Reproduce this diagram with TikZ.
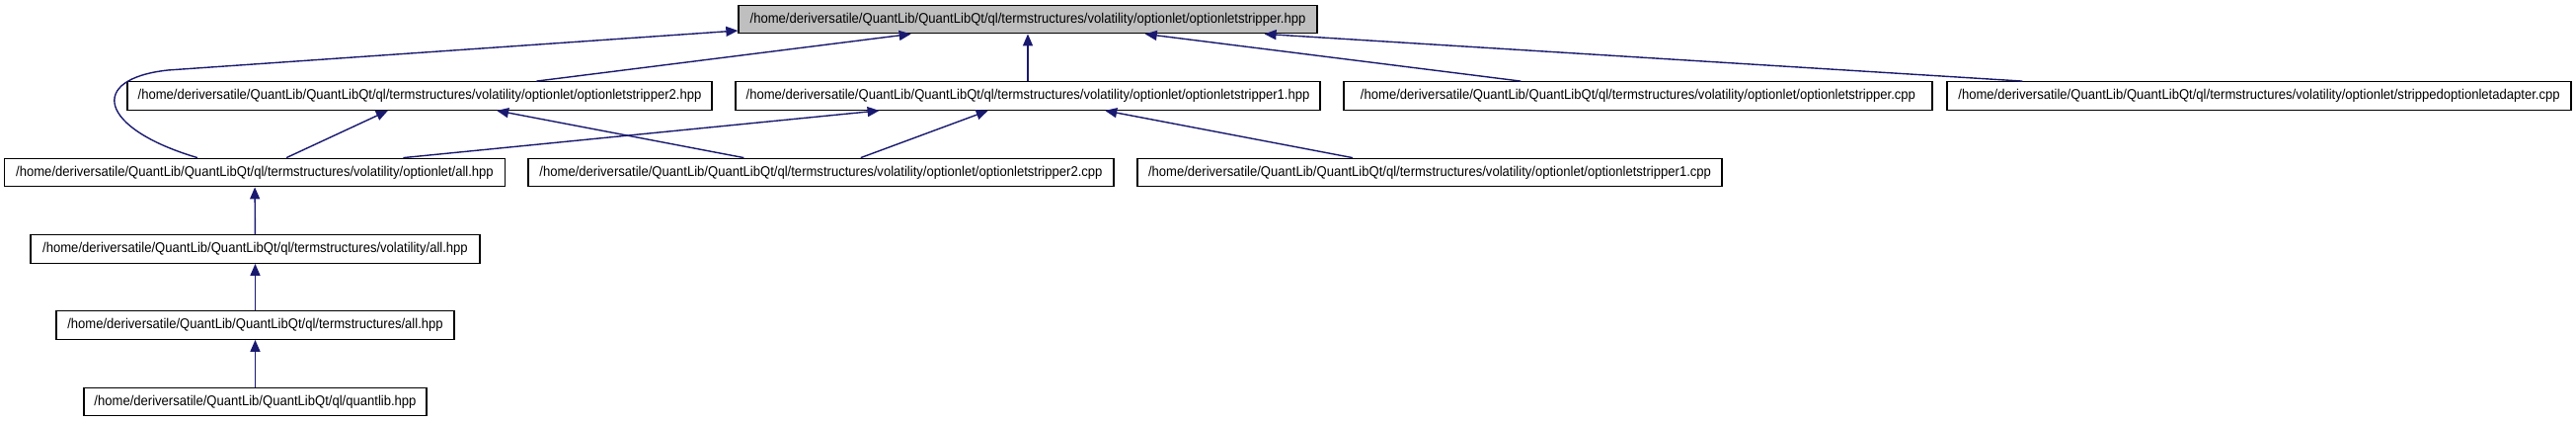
\documentclass[tikz,border=0pt]{standalone}
\usepackage{fontspec}
\newfontfamily\dotfont{Liberation Sans}[FakeStretch=0.92]
\usetikzlibrary{arrows.meta}
\definecolor{edgeblue}{HTML}{191970}
\definecolor{rootgrey}{HTML}{BFBFBF}
\begin{document}
\begin{tikzpicture}[x=1pt, y=-1pt,
  file/.style={draw, line width=1.3pt, minimum height=28.5pt, inner sep=0pt,
    font=\dotfont\fontsize{14.2}{16}\selectfont},
  dep/.style={draw=edgeblue, line width=1.4pt, -{Triangle[length=12pt,width=10pt]}}]
\useasboundingbox (0,0) rectangle (2609,427);
\node[file, fill=rootgrey, minimum width=586pt] (root) at (1041,19.5) {/home/deriversatile/QuantLib/QuantLibQt/ql/termstructures/volatility/optionlet/optionletstripper.hpp};
\node[file, minimum width=592pt] (s2h) at (425,97) {/home/deriversatile/QuantLib/QuantLibQt/ql/termstructures/volatility/optionlet/optionletstripper2.hpp};
\node[file, minimum width=592pt] (s1h) at (1041,97) {/home/deriversatile/QuantLib/QuantLibQt/ql/termstructures/volatility/optionlet/optionletstripper1.hpp};
\node[file, minimum width=596pt] (scpp) at (1659,97) {/home/deriversatile/QuantLib/QuantLibQt/ql/termstructures/volatility/optionlet/optionletstripper.cpp};
\node[file, minimum width=632pt] (adapt) at (2288,97) {/home/deriversatile/QuantLib/QuantLibQt/ql/termstructures/volatility/optionlet/strippedoptionletadapter.cpp};
\node[file, minimum width=507pt] (oall) at (258,174.5) {/home/deriversatile/QuantLib/QuantLibQt/ql/termstructures/volatility/optionlet/all.hpp};
\node[file, minimum width=593pt] (s2cpp) at (831.5,174.5) {/home/deriversatile/QuantLib/QuantLibQt/ql/termstructures/volatility/optionlet/optionletstripper2.cpp};
\node[file, minimum width=592pt] (s1cpp) at (1448,174.5) {/home/deriversatile/QuantLib/QuantLibQt/ql/termstructures/volatility/optionlet/optionletstripper1.cpp};
\node[file, minimum width=455pt] (vall) at (258.5,252) {/home/deriversatile/QuantLib/QuantLibQt/ql/termstructures/volatility/all.hpp};
\node[file, minimum width=403pt] (tsall) at (258.5,329) {/home/deriversatile/QuantLib/QuantLibQt/ql/termstructures/all.hpp};
\node[file, minimum width=347pt] (ql) at (258.5,406.5) {/home/deriversatile/QuantLib/QuantLibQt/ql/quantlib.hpp};
\coordinate (bend) at (170,71);
\draw[dep] (s2h) -- (root);
\draw[dep] (s1h) -- (root);
\draw[dep] (scpp) -- (root);
\draw[dep] (adapt) -- (root);
\draw[dep] ([xshift=-58pt]oall.north) .. controls (100,130) and (88,80) .. (bend) -- ([yshift=-11.5pt]root.west);
\draw[dep] (oall) -- (s2h);
\draw[dep] (oall) -- (s1h);
\draw[dep] (s2cpp) -- (s2h);
\draw[dep] (s2cpp) -- (s1h);
\draw[dep] (s1cpp) -- (s1h);
\draw[dep] (vall) -- (oall);
\draw[dep] (tsall) -- (vall);
\draw[dep] (ql) -- (tsall);
\end{tikzpicture}
\end{document}
